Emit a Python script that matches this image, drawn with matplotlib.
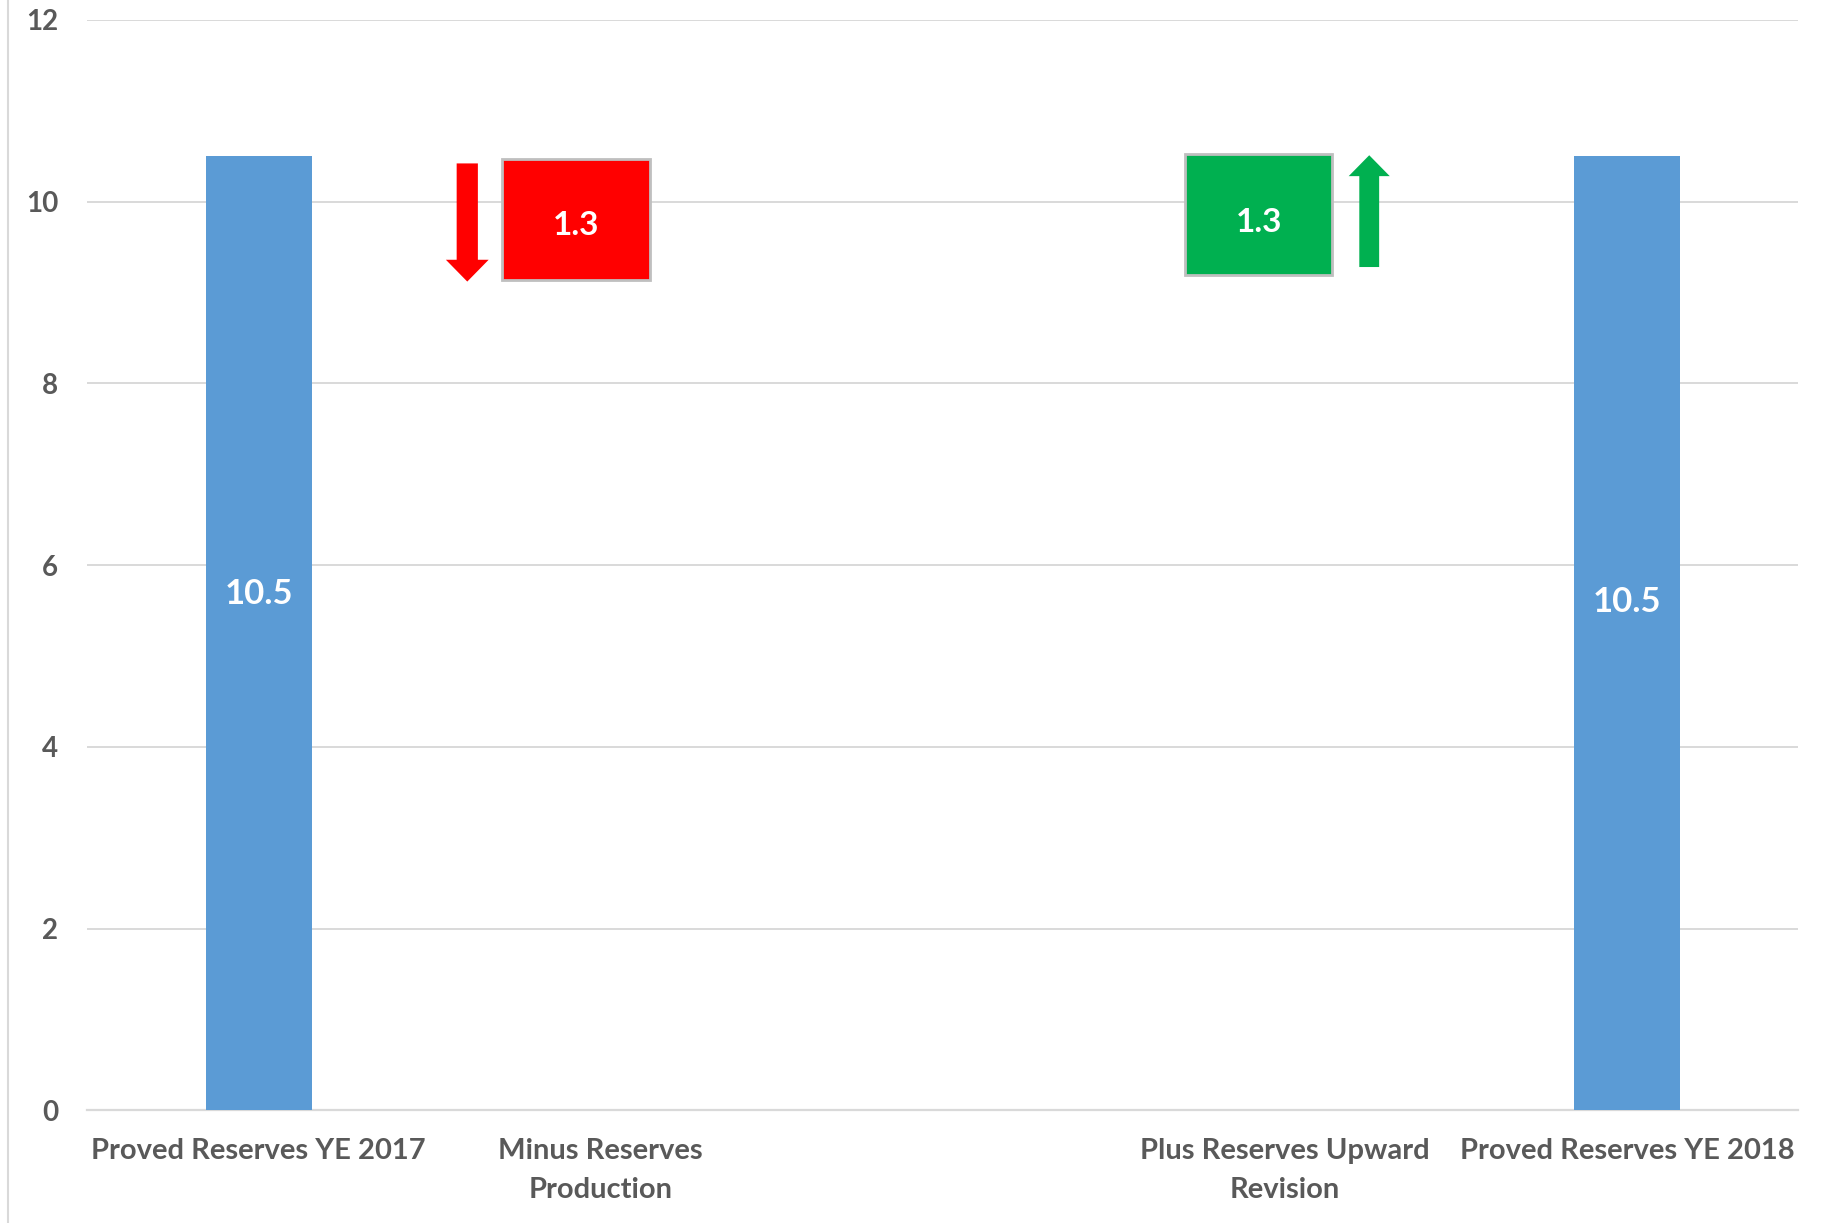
import matplotlib
matplotlib.use("Agg")
import matplotlib.pyplot as plt
from matplotlib.lines import Line2D

# ---- data ----
categories = ["Proved Reserves YE 2017", "Minus Reserves\nProduction", "",
              "Plus Reserves Upward\nRevision", "Proved Reserves YE 2018"]
start_total = 10.5
end_total = 10.5
production = 1.3
revision = 1.3
y_ticks = [0, 2, 4, 6, 8, 10, 12]

plt.rcParams['font.family'] = ['Lato', 'DejaVu Sans']
GRAY = "#595959"
BLUE = "#5B9BD5"
RED = "#FF0000"
GREEN = "#00B050"

fig = plt.figure(figsize=(18.22, 12.23), dpi=100)
ax = fig.add_axes([0.048, 0.0920, 0.939, 0.8918])

x = list(range(len(categories)))

# totals
ax.bar([0, 4], [start_total, end_total], width=0.31, color=BLUE, zorder=3)
ax.text(0, 5.68, f"{start_total}", ha="center", va="center", color="white",
        fontsize=25, fontweight="bold", zorder=5)
ax.text(4, 5.59, f"{end_total}", ha="center", va="center", color="white",
        fontsize=25, fontweight="bold", zorder=5)

# production box (red) + down arrow
red_bottom = start_total - production - 0.06
ax.bar(0.927, production + 0.03, bottom=red_bottom, width=0.432, color=RED,
       edgecolor="#BFBFBF", linewidth=2.0, zorder=3)
ax.text(0.927, red_bottom + production / 2 - 0.05, f"{production}", ha="center",
        va="center", color="white", fontsize=24, fontweight="bold", zorder=5)
ax.arrow(0.61, start_total - 0.08, 0, -production, width=0.062, head_width=0.125,
         head_length=0.24, length_includes_head=True, color=RED, lw=0, zorder=4)

# revision box (green) + up arrow
after_prod = start_total - production
ax.bar(2.923, revision + 0.03, bottom=after_prod - 0.01, width=0.430, color=GREEN,
       edgecolor="#BFBFBF", linewidth=2.0, zorder=3)
ax.text(2.923, after_prod + revision / 2 - 0.08, f"{revision}", ha="center",
        va="center", color="white", fontsize=24, fontweight="bold", zorder=5)
ax.arrow(3.246, after_prod + 0.08, 0, revision - 0.07, width=0.058, head_width=0.12,
         head_length=0.23, length_includes_head=True, color=GREEN, lw=0, zorder=4)

ax.set_xlim(-0.5, len(categories) - 0.5)
ax.set_ylim(0, 12)
ax.set_yticks(y_ticks)
ax.set_yticklabels([str(t) for t in y_ticks], fontsize=20, fontweight="bold", color=GRAY)
ax.set_xticks(x)
ax.set_xticklabels(categories, fontsize=21, fontweight="bold", color=GRAY,
                   linespacing=1.62)
ax.tick_params(axis="both", length=0)
ax.tick_params(axis="y", pad=21)
ax.tick_params(axis="x", pad=20)
ax.yaxis.grid(True, color="#D9D9D9", linewidth=1.4, zorder=0)
ax.set_axisbelow(True)
for s in ["top", "right", "left"]:
    ax.spines[s].set_visible(False)
ax.spines["bottom"].set_color("#D9D9D9")
ax.spines["bottom"].set_linewidth(1.6)

# chart-area left border
fig.add_artist(Line2D([0.0045, 0.0045], [0.0, 1.0], color="#D9D9D9", lw=1.5,
                      transform=fig.transFigure))

fig.savefig("out.png", dpi=100, facecolor="white")
